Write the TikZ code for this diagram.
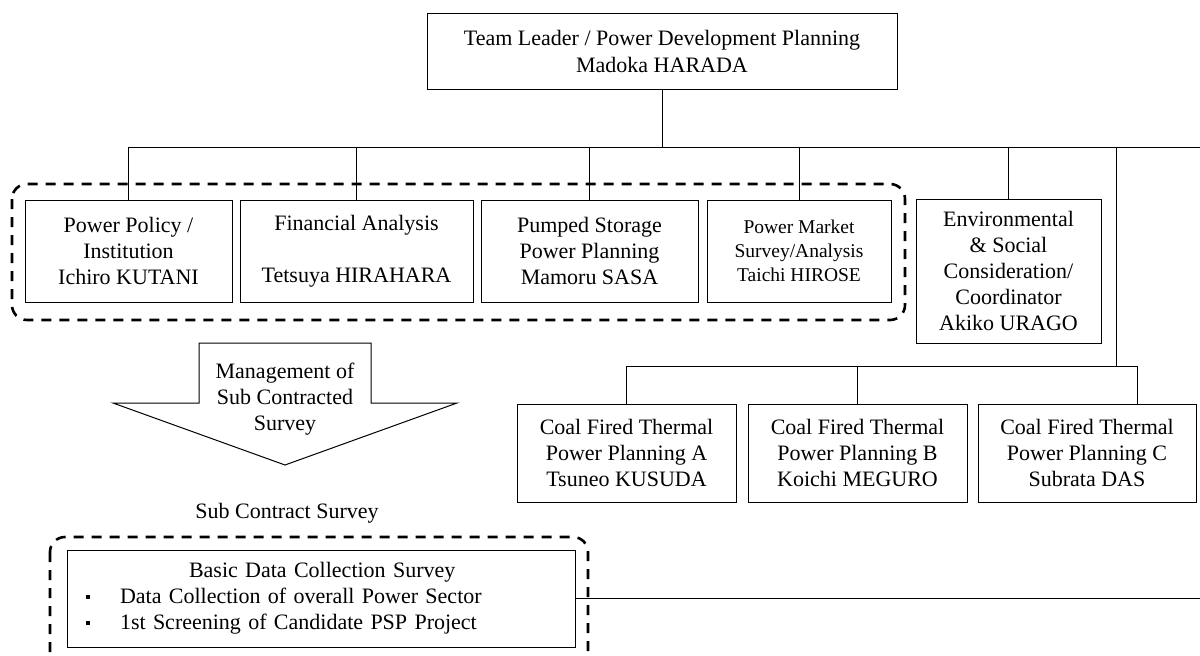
\documentclass[tikz,border=0pt]{standalone}
\usepackage{fontspec}
\setmainfont{Liberation Serif}
\usetikzlibrary{calc}

\newcommand{\sqbullet}{\rule[5pt]{4pt}{4pt}}

\tikzset{
	post/.style={draw, line width=1pt, align=center, inner sep=0pt,
		font=\fontsize{22}{26}\selectfont},
	link/.style={line width=1pt},
	group/.style={line width=2.6pt, dash pattern=on 10pt off 8pt,
		rounded corners=15pt},
}

\begin{document}
\begin{tikzpicture}[x=1pt,y=-1pt]
	\useasboundingbox (0,0) rectangle (1200,656);

	% Team leader
	\node[post, minimum width=470, minimum height=76,
		font=\fontsize{22}{27}\selectfont] (leader) at (662,51)
		{Team Leader / Power Development Planning\\Madoka HARADA};

	% Members
	\node[post, minimum width=207, minimum height=102] (policy) at (128.5,251)
		{Power Policy /\\Institution\\Ichiro KUTANI};
	\node[post, minimum width=233, minimum height=102] (finance) at (356.5,251)
		{Financial Analysis\\\mbox{}\\Tetsuya HIRAHARA};
	\node[post, minimum width=217, minimum height=102] (pumped) at (589.5,251)
		{Pumped Storage\\Power Planning\\Mamoru SASA};
	\node[post, minimum width=184, minimum height=102,
		font=\fontsize{19.5}{24}\selectfont] (market) at (799,251)
		{Power Market\\Survey/Analysis\\Taichi HIROSE};
	\node[post, minimum width=185, minimum height=144] (envir) at (1008.5,271)
		{Environmental\\\& Social\\Consideration/\\Coordinator\\Akiko URAGO};

	% Coal fired thermal
	\node[post, minimum width=219, minimum height=98] (coalA) at (626.5,453)
		{Coal Fired Thermal\\Power Planning A\\Tsuneo KUSUDA};
	\node[post, minimum width=219, minimum height=98] (coalB) at (857.5,453)
		{Coal Fired Thermal\\Power Planning B\\Koichi MEGURO};
	\node[post, minimum width=218, minimum height=98] (coalC) at (1087,453)
		{Coal Fired Thermal\\Power Planning C\\Subrata DAS};

	% Tree
	\coordinate (bus) at (662,147);
	\coordinate (busend) at (1200,147);
	\coordinate (coalbus) at (1116,366);
	\coordinate (coalCin) at ([xshift=50pt]coalC.north);
	\draw[link] (leader.south) -- (bus);
	\draw[link] (policy.north |- bus) -- (busend);
	\foreach \n in {policy,finance,pumped,market,envir}
		\draw[link] (\n.north |- bus) -- (\n.north);
	\draw[link] (coalbus |- bus) -- (coalbus);
	\draw[link] (coalA.north) |- (coalCin |- coalbus) -- (coalCin);
	\draw[link] (coalB.north) -- (coalB.north |- coalbus);

	% Management arrow
	\draw[line width=1pt, fill=white] (199,343) -- (371,343) -- (371,403)
		-- (457,403) -- (285,465) -- (113,403) -- (199,403) -- cycle;
	\node[align=center, inner sep=0pt, font=\fontsize{22}{26}\selectfont]
		(mgmt) at (285,399) {Management of\\Sub Contracted\\Survey};

	% Sub contract survey
	\node[inner sep=0pt, font=\fontsize{22}{26}\selectfont] (subtitle)
		at (287,513) {Sub Contract Survey};
	\node[post, minimum width=508, minimum height=97, text width=508,
		align=left] (basic) at (321,598.5)
		{\hspace*{122pt}Basic Data Collection Survey\\
		\hspace*{19pt}\sqbullet\hspace*{30pt}Data Collection of overall Power Sector\\
		\hspace*{19pt}\sqbullet\hspace*{30pt}1st Screening of Candidate PSP Project};
	\coordinate (rightend) at (1200,598.5);
	\draw[link] (basic.east) -- (rightend);

	% Groups
	\draw[group] (12,184) rectangle (905,320);
	\draw[group] (50,537) rectangle (588,672);

\end{tikzpicture}
\end{document}
